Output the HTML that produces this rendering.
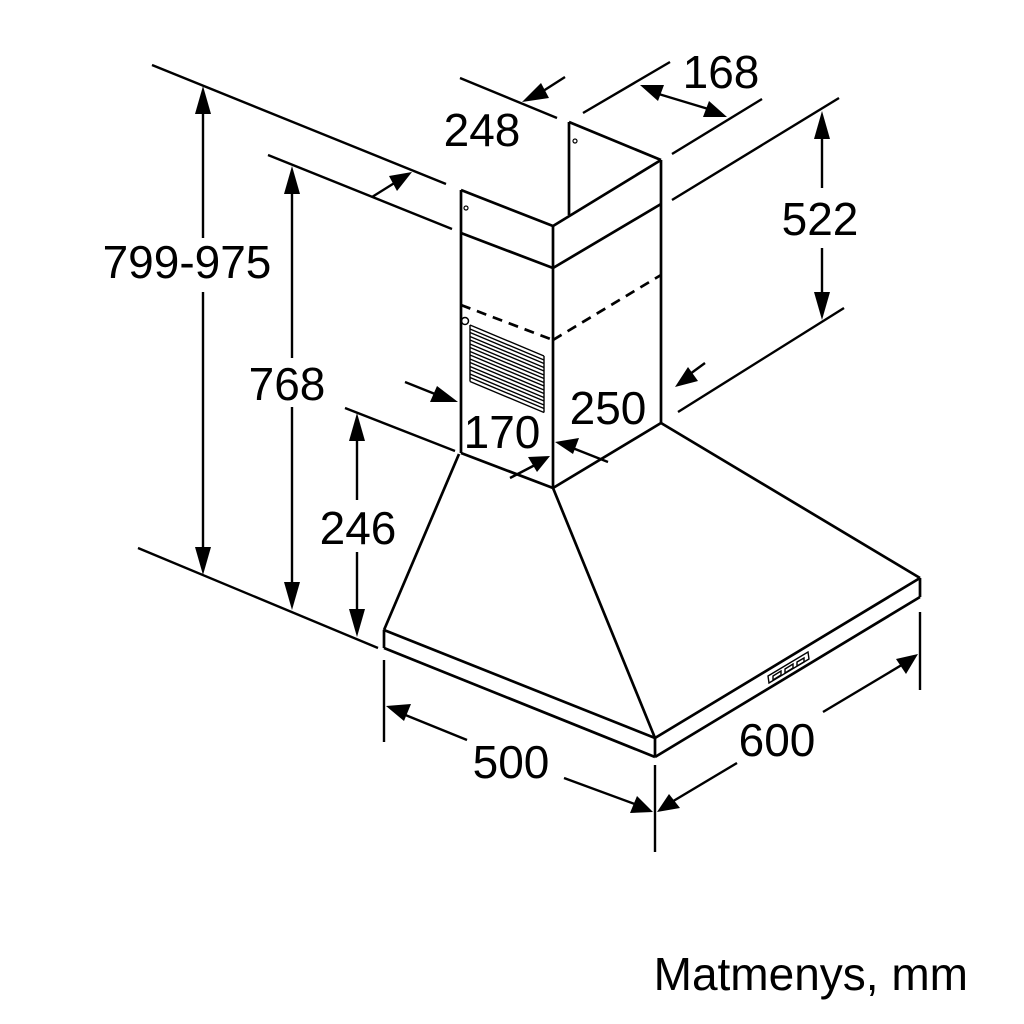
<!DOCTYPE html>
<html><head><meta charset="utf-8"><style>
html,body{margin:0;padding:0;background:#fff;}
svg{display:block}
text{font-family:"Liberation Sans",Arial,sans-serif;fill:#000}
</style></head><body>
<svg width="1024" height="1024" viewBox="0 0 1024 1024" xmlns="http://www.w3.org/2000/svg">
<g stroke="#000" stroke-width="2.7" fill="none" stroke-linecap="butt" stroke-linejoin="miter">
<line x1="461" y1="190" x2="461" y2="453"/>
<line x1="553" y1="226" x2="553" y2="488"/>
<line x1="661" y1="160" x2="661" y2="423"/>
<line x1="461" y1="190" x2="553" y2="226"/>
<line x1="553" y1="226" x2="661" y2="160"/>
<line x1="461" y1="233" x2="553" y2="268"/>
<line x1="553" y1="268" x2="661" y2="204"/>
<line x1="569" y1="122" x2="569" y2="215"/>
<line x1="569" y1="122" x2="661" y2="160"/>
<line x1="461" y1="305" x2="553" y2="340" stroke-dasharray="10,7"/>
<line x1="553" y1="340" x2="661" y2="275" stroke-dasharray="10,7"/>
<circle cx="575" cy="141" r="2" stroke-width="1.2"/>
<circle cx="466" cy="208" r="2" stroke-width="1.2"/>
<circle cx="465" cy="321" r="3.5" stroke-width="1.5"/>
<line x1="461" y1="453" x2="553" y2="488"/>
<line x1="553" y1="488" x2="661" y2="423"/>
<line x1="459" y1="454" x2="384" y2="630"/>
<line x1="553" y1="488" x2="655" y2="738"/>
<line x1="661" y1="423" x2="920" y2="578"/>
<line x1="384" y1="630" x2="655" y2="738"/>
<line x1="655" y1="738" x2="920" y2="578"/>
<line x1="384" y1="648" x2="655" y2="757"/>
<line x1="655" y1="757" x2="920" y2="597"/>
<line x1="384" y1="630" x2="384" y2="648"/>
<line x1="655" y1="738" x2="655" y2="757"/>
<line x1="920" y1="578" x2="920" y2="597"/>
</g>
<g stroke="#000" stroke-width="1.4" fill="none">
<path d="M470 325 L544 356 M470 329 L544 360"/>
<path d="M470 332.5 L544 363.5 M470 336.5 L544 367.5"/>
<path d="M470 340 L544 371 M470 344 L544 375"/>
<path d="M470 347.5 L544 378.5 M470 351.5 L544 382.5"/>
<path d="M470 355 L544 386 M470 359 L544 390"/>
<path d="M470 362.5 L544 393.5 M470 366.5 L544 397.5"/>
<path d="M470 370 L544 401 M470 374 L544 405"/>
<path d="M470 377.5 L544 408.5 M470 381.5 L544 412.5"/>
<line x1="470" y1="325" x2="470" y2="381.5"/>
<line x1="544" y1="356" x2="544" y2="412.5"/>
</g>
<g stroke="#000" stroke-width="1.4" fill="none">
<path d="M768 676 L808 652 L809 659 L769 683 Z"/>
<path d="M773 676 L781 671 L781 675 L773 680 Z M785 669 L793 664 L793 668 L785 673 Z M797 662 L804 658 L804 662 L797 666 Z"/>
</g>
<g stroke="#000" stroke-width="2.4" fill="none">
<line x1="152" y1="65" x2="446" y2="184"/>
<line x1="268" y1="155" x2="452" y2="229"/>
<line x1="345" y1="408" x2="455" y2="451"/>
<line x1="138" y1="548" x2="378" y2="648"/>
<line x1="203" y1="100" x2="203" y2="238"/>
<line x1="203" y1="292" x2="203" y2="560"/>
<line x1="292" y1="180" x2="292" y2="358"/>
<line x1="292" y1="407" x2="292" y2="595"/>
<line x1="357" y1="428" x2="357" y2="500"/>
<line x1="357" y1="552" x2="357" y2="622"/>
<line x1="460" y1="78" x2="557" y2="118"/>
<line x1="583" y1="113" x2="670" y2="62"/>
<line x1="672" y1="154" x2="762" y2="99"/>
<line x1="652" y1="92" x2="715" y2="111"/>
<line x1="672" y1="200" x2="839" y2="98"/>
<line x1="678" y1="412" x2="844" y2="308"/>
<line x1="822" y1="125" x2="822" y2="188"/>
<line x1="822" y1="248" x2="822" y2="305"/>
<line x1="565" y1="77" x2="540" y2="93"/>
<line x1="372" y1="197" x2="396" y2="182"/>
<line x1="705" y1="363" x2="690" y2="374"/>
<line x1="608" y1="462" x2="570" y2="447"/>
<line x1="405" y1="382" x2="440" y2="396"/>
<line x1="510" y1="478" x2="535" y2="465"/>
<line x1="384" y1="660" x2="384" y2="742"/>
<line x1="655" y1="765" x2="655" y2="852"/>
<line x1="920" y1="612" x2="920" y2="690"/>
<line x1="398" y1="712" x2="467" y2="740"/>
<line x1="564" y1="778" x2="640" y2="806"/>
<line x1="670" y1="803" x2="737" y2="763"/>
<line x1="823" y1="712" x2="905" y2="663"/>
</g>
<g fill="#000">
<polygon points="203,86 195,114 211,114"/>
<polygon points="203,575 195,547 211,547"/>
<polygon points="292,166 284,194 300,194"/>
<polygon points="292,610 284,582 300,582"/>
<polygon points="357,413 349,441 365,441"/>
<polygon points="357,637 349,609 365,609"/>
<polygon points="822,111 814,139 830,139"/>
<polygon points="822,320 814,292 830,292"/>
<polygon points="522,102 541,83 549,98"/>
<polygon points="412,172 389,176 397,191"/>
<polygon points="640,85 664,85 658,101"/>
<polygon points="727,117 703,117 709,101"/>
<polygon points="675,387 688,367 698,381"/>
<polygon points="555,442 579,438 573,454"/>
<polygon points="458,402 437,386 430,402"/>
<polygon points="550,456 528,457 537,472"/>
<polygon points="386,706 411,704 404,721"/>
<polygon points="653,812 630,813 637,796"/>
<polygon points="657,812 669,794 680,808"/>
<polygon points="918,654 906,674 896,659"/>
</g>
<g font-size="46">
<text x="187" y="278" text-anchor="middle">799-975</text>
<text x="287" y="400" text-anchor="middle">768</text>
<text x="358" y="544" text-anchor="middle">246</text>
<text x="482" y="146" text-anchor="middle">248</text>
<text x="721" y="88" text-anchor="middle">168</text>
<text x="820" y="235" text-anchor="middle">522</text>
<text x="608" y="424" text-anchor="middle">250</text>
<text x="502" y="448" text-anchor="middle">170</text>
<text x="511" y="778" text-anchor="middle">500</text>
<text x="777" y="756" text-anchor="middle">600</text>
</g>
<text x="968" y="990" text-anchor="end" font-size="46">Matmenys, mm</text>
</svg>
</body></html>
